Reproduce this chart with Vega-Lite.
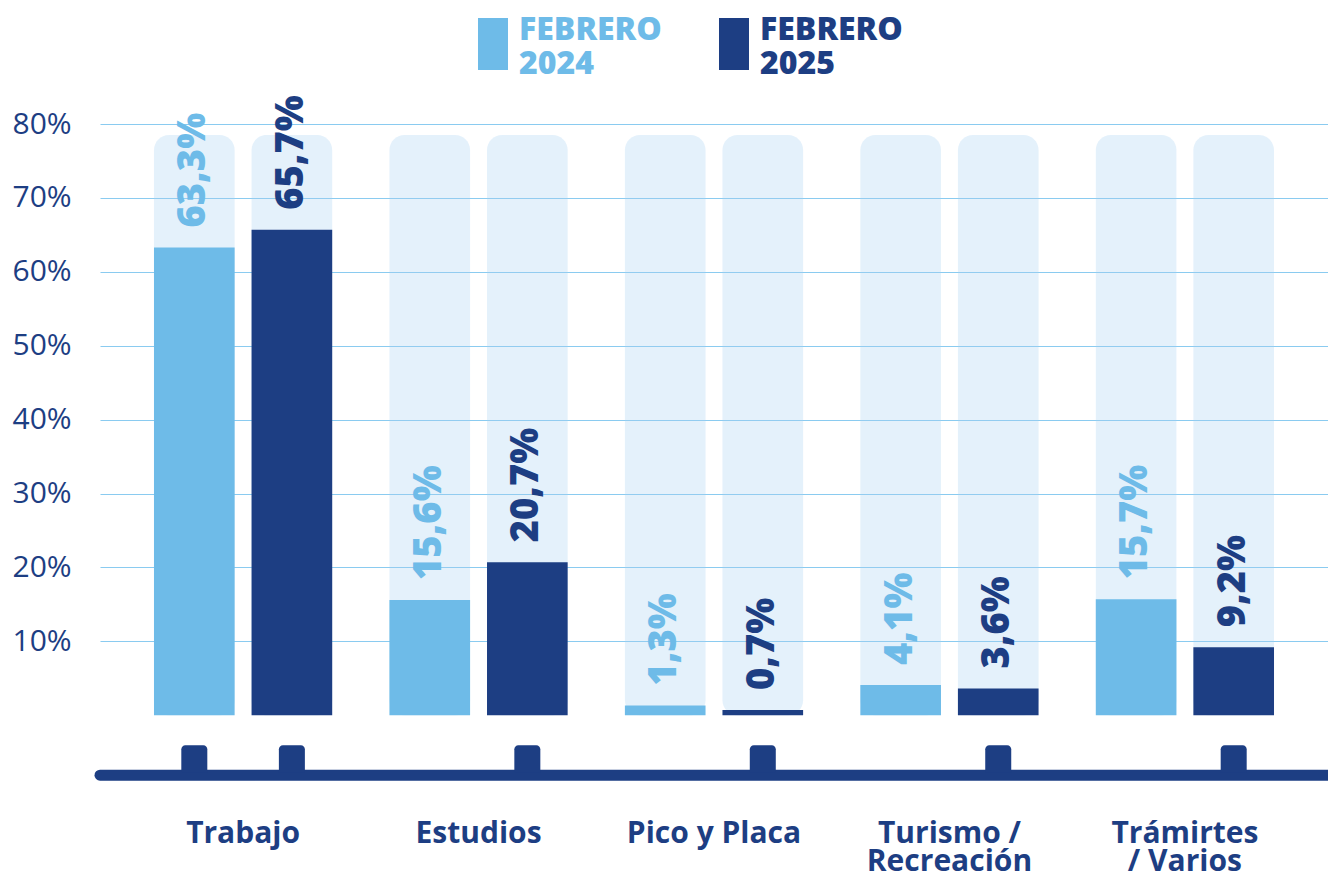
{
  "$schema": "https://vega.github.io/schema/vega-lite/v6.json",
  "width": 1228,
  "height": 739,
  "autosize": {"type": "none"},
  "padding": {"left": 100, "top": 124, "right": 0, "bottom": 8},
  "background": "white",
  "config": {
    "view": {"stroke": null},
    "locale": {"number": {"decimal": ",", "thousands": ".", "grouping": [3], "currency": ["", " €"]}}
  },
  "datasets": {
    "bars": [
      {"cat": "Trabajo", "year": "2024", "value": 0.633},
      {"cat": "Trabajo", "year": "2025", "value": 0.657},
      {"cat": "Estudios", "year": "2024", "value": 0.156},
      {"cat": "Estudios", "year": "2025", "value": 0.207},
      {"cat": "Pico y Placa", "year": "2024", "value": 0.013},
      {"cat": "Pico y Placa", "year": "2025", "value": 0.007},
      {"cat": "Turismo /\nRecreación", "year": "2024", "value": 0.041},
      {"cat": "Turismo /\nRecreación", "year": "2025", "value": 0.036},
      {"cat": "Trámirtes\n/ Varios", "year": "2024", "value": 0.157},
      {"cat": "Trámirtes\n/ Varios", "year": "2025", "value": 0.092}
    ],
    "tabs": [
      {"cat": "Trabajo", "year": "2024"},
      {"cat": "Trabajo", "year": "2025"},
      {"cat": "Estudios", "year": "2025"},
      {"cat": "Pico y Placa", "year": "2025"},
      {"cat": "Turismo /\nRecreación", "year": "2025"},
      {"cat": "Trámirtes\n/ Varios", "year": "2025"}
    ],
    "cats": [
      {"cat": "Trabajo"},
      {"cat": "Estudios"},
      {"cat": "Pico y Placa"},
      {"cat": "Turismo /\nRecreación"},
      {"cat": "Trámirtes\n/ Varios"}
    ]
  },
  "layer": [
    {
      "data": {"name": "bars"},
      "mark": {"type": "bar", "fill": "#A5D0F2", "opacity": 0.3, "cornerRadius": 15},
      "encoding": {
        "x": {
          "field": "cat", "type": "nominal", "axis": null,
          "scale": {
            "domain": ["Trabajo", "Estudios", "Pico y Placa", "Turismo /\nRecreación", "Trámirtes\n/ Varios"],
            "paddingInner": 0.2431, "paddingOuter": 0.2293
          }
        },
        "xOffset": {"field": "year", "type": "nominal", "scale": {"domain": ["2024", "2025"], "paddingInner": 0.1735, "paddingOuter": 0}},
        "y": {
          "datum": 0.785, "type": "quantitative",
          "scale": {"domain": [-0.2, 0.8], "nice": false},
          "axis": {
            "values": [0.1, 0.2, 0.3, 0.4, 0.5, 0.6, 0.7, 0.8],
            "format": ".0%", "title": null, "domain": false, "ticks": false,
            "grid": true, "gridColor": "#8ACBF0", "gridWidth": 1.2,
            "labelAlign": "left", "labelPadding": 88, "labelFont": "Open Sans",
            "labelFontSize": 30, "labelColor": "#1D3E83", "labelFontWeight": 400
          }
        },
        "y2": {"datum": 0}
      }
    },
    {
      "data": {"name": "bars"},
      "mark": {"type": "bar"},
      "encoding": {
        "x": {"field": "cat", "type": "nominal", "axis": null},
        "xOffset": {"field": "year", "type": "nominal"},
        "y": {"field": "value", "type": "quantitative", "stack": null},
        "color": {
          "field": "year", "type": "nominal",
          "scale": {"domain": ["2024", "2025"], "range": ["#6EBBE8", "#1D3E83"]},
          "legend": {
            "orient": "none", "legendX": 367, "legendY": -106, "direction": "horizontal",
            "title": null, "symbolType": "M-0.577,-1H0.577V1H-0.577Z", "symbolSize": 2704,
            "symbolStrokeWidth": 0, "symbolOpacity": 1,
            "labelFont": "Open Sans", "labelFontSize": 32, "labelFontWeight": 800,
            "labelExpr": "['FEBRERO', datum.label]", "labelLineHeight": 30, "labelBaseline": "alphabetic",
            "labelOffset": 0, "labelLimit": 400, "columnPadding": 46, "padding": 0,
            "encode": {"labels": {"update": {"dy": {"value": -4}, "fill": {"signal": "datum.value === '2024' ? '#6EBBE8' : '#1D3E83'"}}}}
          }
        }
      }
    },
    {
      "data": {"name": "bars"},
      "mark": {"type": "text", "angle": 270, "align": "left", "baseline": "middle", "dx": 20, "font": "Open Sans", "fontSize": 38, "fontWeight": 800},
      "encoding": {
        "x": {"field": "cat", "type": "nominal", "axis": null},
        "xOffset": {"field": "year", "type": "nominal"},
        "y": {"field": "value", "type": "quantitative"},
        "text": {"field": "value", "type": "quantitative", "format": ".1%"},
        "color": {"field": "year", "type": "nominal"}
      }
    },
    {
      "data": {"values": [{}]},
      "mark": {"type": "rule", "strokeWidth": 11, "strokeCap": "round", "color": "#1D3E83"},
      "encoding": {"y": {"datum": -0.0812, "type": "quantitative"}}
    },
    {
      "data": {"name": "tabs"},
      "mark": {"type": "bar", "width": 26, "color": "#1D3E83", "cornerRadiusTopLeft": 4, "cornerRadiusTopRight": 4},
      "encoding": {
        "x": {"field": "cat", "type": "nominal", "axis": null},
        "xOffset": {"field": "year", "type": "nominal"},
        "y": {"datum": -0.0406, "type": "quantitative"},
        "y2": {"datum": -0.078}
      }
    },
    {
      "data": {"name": "cats"},
      "mark": {"type": "text", "align": "center", "baseline": "alphabetic", "lineBreak": "\n", "lineHeight": 28, "font": "Open Sans", "fontSize": 30, "fontWeight": 700, "color": "#1D3E83"},
      "encoding": {
        "x": {"field": "cat", "type": "nominal", "axis": null},
        "y": {"datum": -0.1733, "type": "quantitative"},
        "text": {"field": "cat", "type": "nominal"}
      }
    }
  ]
}
